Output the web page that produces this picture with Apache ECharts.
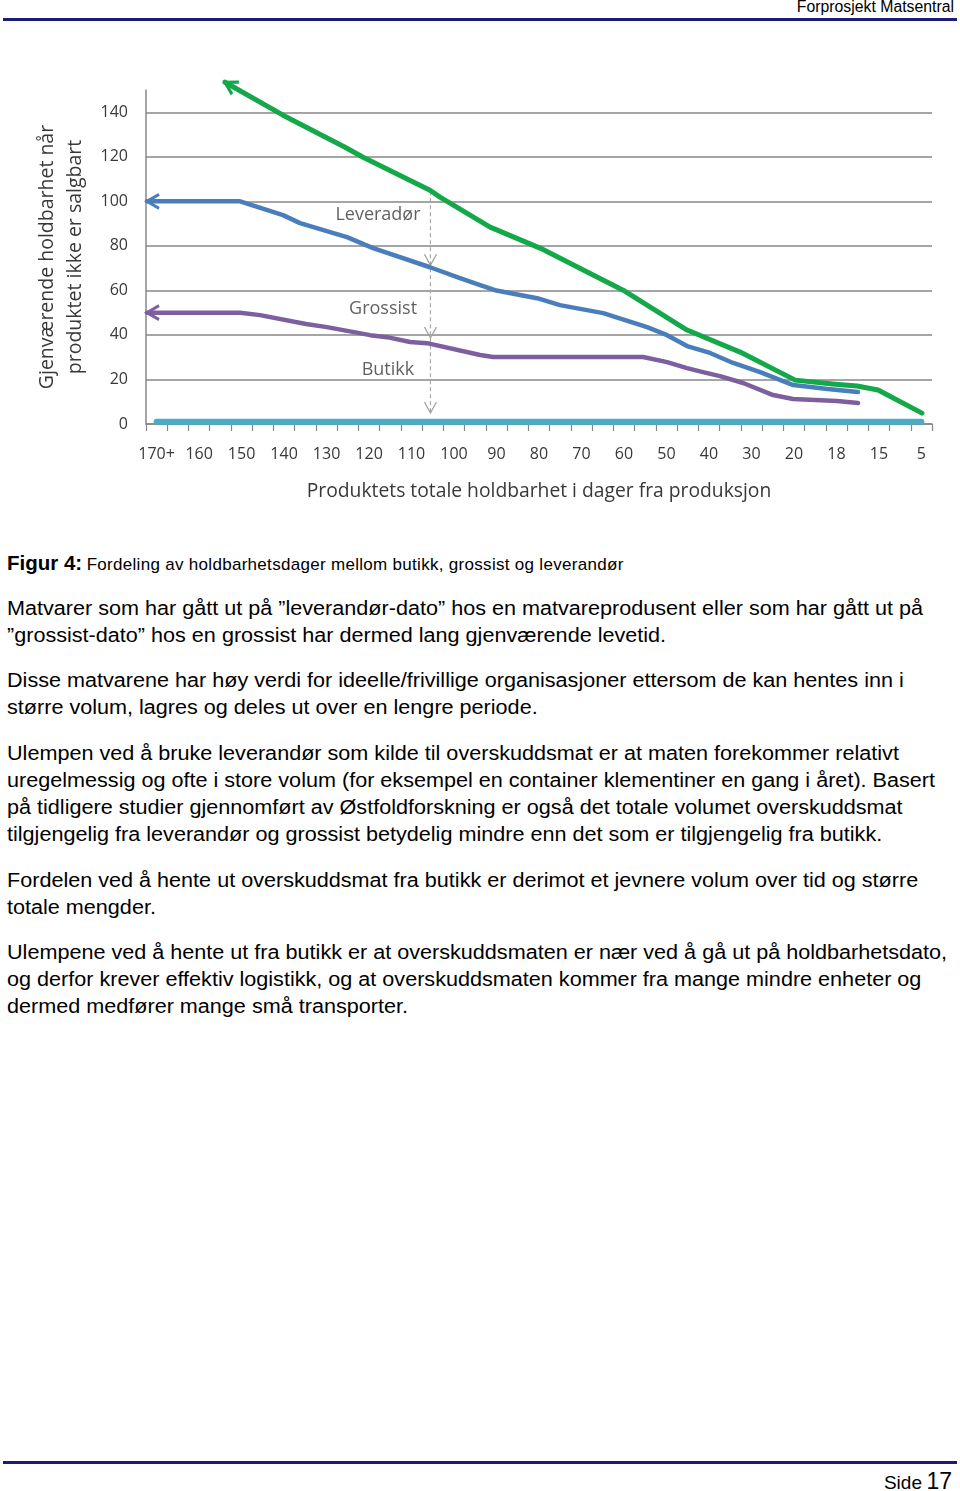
<!DOCTYPE html>
<html><head><meta charset="utf-8">
<script src="https://cdn.jsdelivr.net/npm/echarts@6/dist/echarts.min.js"></script>
<style>
html,body{margin:0;padding:0;background:#fff;}
body{width:960px;height:1491px;position:relative;overflow:hidden;font-family:"Liberation Sans",Arial,sans-serif;color:#000;}
#chart{position:absolute;left:0;top:0;width:960px;height:530px;}
.hdr{position:absolute;right:6px;top:-2px;font-size:15.8px;line-height:18px;white-space:nowrap;}
.rule{position:absolute;left:3px;width:954px;height:3px;background:#1b1b78;}
.txt{position:absolute;left:7px;white-space:nowrap;font-size:20px;line-height:27.3px;transform-origin:0 0;}
.cap{position:absolute;left:7px;top:550px;white-space:nowrap;line-height:26px;}
.cap .a{font-size:20.5px;font-weight:bold;}
.cap .b{font-size:17px;letter-spacing:0.3px;}
.ftr{position:absolute;right:8px;top:1466px;white-space:nowrap;line-height:30px;}
.ftr .a{font-size:19px;}
.ftr .b{font-size:23px;}
</style></head>
<body>
<div class="hdr">Forprosjekt Matsentral</div>
<div class="rule" style="top:18px"></div>
<div id="chart"></div>
<div class="cap"><span class="a">Figur 4:</span> <span class="b">Fordeling av holdbarhetsdager mellom butikk, grossist og leverandør</span></div>
<div class="txt" style="top:594.5px"><span id="m1">Matvarer som har gått ut på ”leverandør-dato” hos en matvareprodusent eller som har gått ut på</span><br>”grossist-dato” hos en grossist har dermed lang gjenværende levetid.</div>
<div class="txt" style="top:666.5px">Disse matvarene har høy verdi for ideelle/frivillige organisasjoner ettersom de kan hentes inn i<br>større volum, lagres og deles ut over en lengre periode.</div>
<div class="txt" style="top:739.5px">Ulempen ved å bruke leverandør som kilde til overskuddsmat er at maten forekommer relativt<br>uregelmessig og ofte i store volum (for eksempel en container klementiner en gang i året). Basert<br>på tidligere studier gjennomført av Østfoldforskning er også det totale volumet overskuddsmat<br>tilgjengelig fra leverandør og grossist betydelig mindre enn det som er tilgjengelig fra butikk.</div>
<div class="txt" style="top:866.5px">Fordelen ved å hente ut overskuddsmat fra butikk er derimot et jevnere volum over tid og større<br>totale mengder.</div>
<div class="txt" style="top:938.5px">Ulempene ved å hente ut fra butikk er at overskuddsmaten er nær ved å gå ut på holdbarhetsdato,<br>og derfor krever effektiv logistikk, og at overskuddsmaten kommer fra mange mindre enheter og<br>dermed medfører mange små transporter.</div>
<div class="rule" style="top:1461px"></div>
<div class="ftr"><span class="a">Side</span> <span class="b">17</span></div>
<script>
// scale body text to match reference line width
(function(){
  var w = document.getElementById('m1').getBoundingClientRect().width;
  var k = 916 / w;
  document.querySelectorAll('.txt').forEach(function(d){ d.style.transform = 'scaleX(' + k + ')'; });
})();

// ---- data ----
const xCategories = ['170+','','160','','150','','140','','130','','120','','110','','100','','90','','80','','70','','60','','50','','40','','30','','20','','18','','15','','5'];
const yMin = 0, yMax = 150, yInterval = 20;
const xTitle = 'Produktets totale holdbarhet i dager fra produksjon';
const yTitle = 'Gjenværende holdbarhet når\nproduktet ikke er salgbart';
// positions along the category axis measured in category widths (0 = y axis)
const greenLine = [[3.72,153.5],[6.45,138.7],[9.37,124.3],[10.22,119.8],[13.37,105.0],[13.84,101.9],[16.20,88.4],[18.55,79.0],[22.46,60.1],[25.47,42.2],[27.97,32.3],[30.56,19.7],[32.44,17.9],[33.47,17.1],[34.46,15.3],[36.53,4.9]];
const blueLine = [[0.05,100],[4.43,100],[6.45,93.8],[7.25,90.2],[9.46,83.9],[10.69,79.0],[13.37,70.4],[14.78,65.5],[15.73,62.4],[16.43,60.1],[18.41,56.5],[19.49,53.4],[21.52,49.8],[23.59,43.5],[24.53,39.9],[25.47,35.0],[26.55,31.9],[27.64,27.4],[28.91,23.3],[30.47,17.5],[32.08,15.7],[33.52,14.4]];
const purpleLine = [[0.05,50],[4.43,50],[5.37,48.9],[7.53,44.9],[8.52,43.5],[10.55,39.9],[11.35,39.0],[12.43,36.8],[13.23,36.3],[15.73,31.0],[16.34,30.1],[23.40,30.1],[24.53,27.8],[25.47,25.1],[26.22,23.3],[27.02,21.5],[28.11,18.4],[29.52,13.0],[30.46,11.2],[32.53,10.3],[33.52,9.4]];
const tealLine = [[0.5,1],[36.5,1]];
const dashedX = 13.39;
const dashedValues = [104.5, 71.3, 38.6, 4.9];
const labelNames = ['Leveradør','Grossist','Butikk'];
const labelPositions = [[10.92,93.8],[11.16,51.6],[11.39,24.2]];

const GREEN = '#13a84a', BLUE = '#4a7ebb', PURPLE = '#7d5fa0', TEAL = '#4bacc6';
const GRID = '#878787', TXT = '#383838', FONT = 'Open Sans';
const leftArrow = 'path://M10,0L0,7L10,14';
const downArrow = 'path://M0,0L6,10L12,0';

function withStartArrow(arr, color, rot, off) {
  return arr.map(function(p, i){
    if (i !== 0) return p;
    return { value: p, symbol: leftArrow, symbolSize: [12,14], symbolRotate: rot, symbolOffset: off,
      itemStyle: { color: 'none', borderColor: color, borderWidth: 3 } };
  });
}
const dashedData = dashedValues.map(function(v, i){
  if (i === 0) return [dashedX, v];
  return { value: [dashedX, v], symbol: downArrow, symbolSize: [12,11], symbolOffset: [0,-5.5],
    itemStyle: { color: 'none', borderColor: '#a0a0a0', borderWidth: 1.2 } };
});

const chart = echarts.init(document.getElementById('chart'));
chart.setOption({
  animation: false,
  grid: { left: 146, top: 90, width: 786, height: 334, containLabel: false, outerBoundsMode: 'none' },
  xAxis: [{
    type: 'category', data: xCategories, boundaryGap: true,
    axisLine: { lineStyle: { color: GRID, width: 1.5 } },
    axisTick: { show: true, interval: 0, length: 7, lineStyle: { color: GRID, width: 1.2 } },
    axisLabel: { interval: 0, margin: 22, fontSize: 16, color: TXT, fontFamily: FONT },
    splitLine: { show: false },
    name: xTitle, nameLocation: 'middle', nameGap: 58,
    nameTextStyle: { fontSize: 19.3, color: TXT, fontFamily: FONT }
  }, {
    type: 'value', min: 0, max: 37, show: false
  }],
  yAxis: {
    type: 'value', min: yMin, max: yMax, interval: yInterval,
    axisLine: { show: true, lineStyle: { color: GRID, width: 1.5 } },
    axisTick: { show: false },
    axisLabel: { showMaxLabel: false, margin: 18, fontSize: 16, color: TXT, fontFamily: FONT },
    splitLine: { show: true, showMaxLine: false, lineStyle: { color: GRID, width: 1.5 } },
    name: yTitle, nameLocation: 'middle', nameRotate: 90, nameGap: 57,
    nameTextStyle: { fontSize: 19.5, lineHeight: 28, color: TXT, fontFamily: FONT }
  },
  series: [
    { type: 'line', xAxisIndex: 1, data: tealLine, symbol: 'none', clip: false,
      lineStyle: { color: TEAL, width: 6, cap: 'round' }, z: 2 },
    { type: 'line', xAxisIndex: 1, data: dashedData, symbol: 'none', clip: false,
      lineStyle: { color: '#a8a8a8', width: 1.2, type: [4,3] }, z: 3 },
    { type: 'line', xAxisIndex: 1, data: withStartArrow(purpleLine, PURPLE, 0, [6,0]), symbol: 'none', clip: false,
      lineStyle: { color: PURPLE, width: 4.5, cap: 'round', join: 'round' }, z: 4 },
    { type: 'line', xAxisIndex: 1, data: withStartArrow(blueLine, BLUE, 0, [6,0]), symbol: 'none', clip: false,
      lineStyle: { color: BLUE, width: 4.5, cap: 'round', join: 'round' }, z: 5 },
    { type: 'line', xAxisIndex: 1, data: withStartArrow(greenLine, GREEN, -29.6, [5.2,3]), symbol: 'none', clip: false,
      lineStyle: { color: GREEN, width: 5, cap: 'round', join: 'round' }, z: 6 },
    { type: 'scatter', xAxisIndex: 1, symbol: 'circle', symbolSize: 1, itemStyle: { color: 'rgba(0,0,0,0)' },
      data: labelNames.map(function(n, i){ return { name: n, value: labelPositions[i] }; }),
      label: { show: true, position: 'inside', formatter: '{b}', fontSize: 18, color: TXT, fontFamily: FONT }, z: 7 }
  ]
});
</script>
</body></html>
